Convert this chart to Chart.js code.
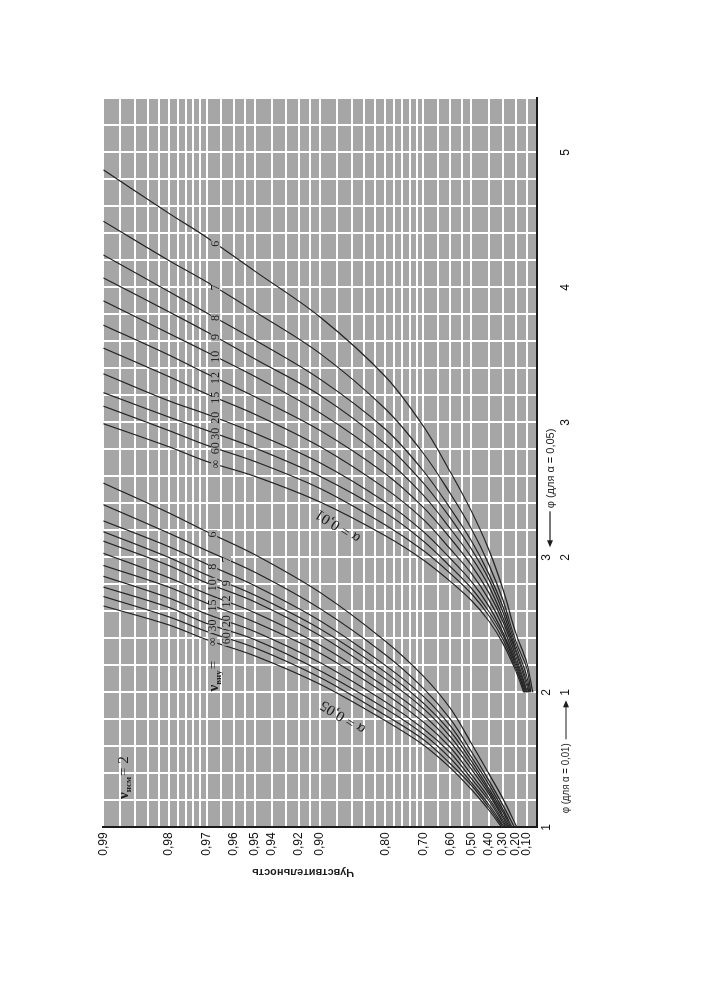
<!DOCTYPE html>
<html>
<head>
<meta charset="utf-8">
<script src="https://cdn.jsdelivr.net/npm/chart.js@4.4.1/dist/chart.umd.min.js"></script>
<style>
  html, body { margin: 0; padding: 0; width: 705px; height: 1000px; overflow: hidden; background: #fff; }
  /* the chart is printed turned on its side, so draw it flat and turn the box */
  #page { position: absolute; left: 0; top: 0; width: 1000px; height: 705px;
          transform-origin: 0 0; transform: translateY(1000px) rotate(-90deg); }
</style>
</head>
<body>
<div id="page"><canvas id="power-chart" width="1000" height="705"></canvas></div>
<script>
// one curve per value of ν2 (within-group df), ν1 = 2
const nu2 = ['6', '7', '8', '9', '10', '12', '15', '20', '30', '60', '∞'];

// α = 0,05 family: φ (inner scale) at which each power level is reached
const levels05 = [0.30, 0.40, 0.50, 0.60, 0.70, 0.80, 0.90, 0.95, 0.97, 0.98, 0.99];
const start05 = [0.19, 0.21, 0.23, 0.24, 0.25, 0.26, 0.27, 0.28, 0.29, 0.30, 0.31]; // power at φ = 1
const phi05 = [
  [1.21, 1.40, 1.62, 1.88, 2.12, 2.38, 2.74, 3.02, 3.19, 3.33, 3.55],
  [1.16, 1.35, 1.56, 1.80, 2.03, 2.28, 2.62, 2.89, 3.05, 3.18, 3.39],
  [1.13, 1.32, 1.52, 1.75, 1.97, 2.20, 2.53, 2.79, 2.95, 3.08, 3.27],
  [1.11, 1.29, 1.49, 1.71, 1.92, 2.15, 2.47, 2.72, 2.87, 3.00, 3.19],
  [null, 1.27, 1.46, 1.67, 1.88, 2.10, 2.42, 2.67, 2.81, 2.94, 3.12],
  [null, 1.25, 1.43, 1.63, 1.83, 2.04, 2.35, 2.59, 2.73, 2.85, 3.03],
  [null, 1.22, 1.39, 1.59, 1.78, 1.99, 2.29, 2.52, 2.66, 2.78, 2.94],
  [null, 1.20, 1.36, 1.55, 1.73, 1.93, 2.22, 2.45, 2.58, 2.70, 2.86],
  [null, 1.17, 1.33, 1.51, 1.69, 1.88, 2.16, 2.39, 2.51, 2.63, 2.78],
  [null, 1.15, 1.31, 1.47, 1.65, 1.83, 2.11, 2.33, 2.45, 2.56, 2.71],
  [null, 1.13, 1.28, 1.44, 1.61, 1.79, 2.06, 2.27, 2.39, 2.50, 2.64]
];

// α = 0,01 family: φ on its own scale (outer row, shifted by one unit)
const levels01 = [0.10, 0.20, 0.30, 0.40, 0.50, 0.60, 0.70, 0.80, 0.90, 0.95, 0.97, 0.98, 0.99];
const start01 = [0.04, 0.06, 0.07, 0.08, 0.085, 0.095, 0.10, 0.11, 0.12, 0.12, 0.13];
const phi01 = [
  [1.22, 1.44, 1.76, 2.06, 2.34, 2.63, 2.97, 3.34, 3.78, 4.12, 4.37, 4.55, 4.87],
  [1.18, 1.38, 1.68, 1.95, 2.21, 2.47, 2.77, 3.10, 3.51, 3.82, 4.04, 4.20, 4.49],
  [1.12, 1.35, 1.63, 1.88, 2.12, 2.36, 2.64, 2.95, 3.32, 3.61, 3.81, 3.97, 4.24],
  [1.08, 1.32, 1.59, 1.84, 2.06, 2.29, 2.55, 2.84, 3.20, 3.47, 3.67, 3.82, 4.07],
  [1.05, 1.30, 1.55, 1.79, 2.00, 2.21, 2.46, 2.73, 3.07, 3.34, 3.52, 3.66, 3.90],
  [null, 1.27, 1.52, 1.74, 1.94, 2.14, 2.37, 2.62, 2.94, 3.19, 3.36, 3.50, 3.72],
  [null, 1.24, 1.48, 1.69, 1.88, 2.06, 2.28, 2.51, 2.82, 3.06, 3.21, 3.34, 3.55],
  [null, 1.22, 1.44, 1.64, 1.82, 1.99, 2.19, 2.41, 2.70, 2.92, 3.06, 3.16, 3.36],
  [null, 1.20, 1.42, 1.60, 1.77, 1.93, 2.12, 2.33, 2.60, 2.81, 2.94, 3.04, 3.22],
  [null, 1.18, 1.39, 1.57, 1.73, 1.88, 2.05, 2.24, 2.51, 2.71, 2.83, 2.94, 3.12],
  [null, 1.16, 1.36, 1.53, 1.68, 1.82, 1.98, 2.16, 2.41, 2.60, 2.71, 2.82, 2.99]
];

// power axis: grid lines and the ones carrying a label
const powerGrid = [0.10, 0.20, 0.30, 0.40, 0.50, 0.55, 0.60, 0.65, 0.70, 0.72, 0.74, 0.76, 0.78,
  0.80, 0.82, 0.84, 0.86, 0.88, 0.90, 0.91, 0.92, 0.93, 0.94, 0.95, 0.955, 0.96, 0.965,
  0.97, 0.972, 0.974, 0.976, 0.978, 0.98, 0.982, 0.984, 0.986, 0.988, 0.99];
const powerLabels = [0.10, 0.20, 0.30, 0.40, 0.50, 0.60, 0.70, 0.80, 0.90, 0.92, 0.94, 0.95,
  0.96, 0.97, 0.98, 0.99];

// φ tick labels: inner row (α = 0,05) and outer row (α = 0,01)
const phiTicks05 = [1, 2, 3];
const phiTicks01 = [1, 2, 3, 4, 5];

const plotBg = '#a6a6a6';
const ink = '#1c1c1c';
const sans = '"Liberation Sans", Arial, sans-serif';
const serif = '"Liberation Serif", "Times New Roman", serif';

// the power scale is -log10(1 - P)
function axisValue(p) {
  return -Math.log10(1 - p);
}

function buildCurve(start, levels, phis, shift) {
  const pts = [{ x: 1 + shift, y: axisValue(start) }];
  levels.forEach((p, i) => {
    if (phis[i] !== null) pts.push({ x: phis[i] + shift, y: axisValue(p) });
  });
  return pts;
}

function phiAtValue(points, f) {
  for (let k = 1; k < points.length; k++) {
    const a = points[k - 1], b = points[k];
    if (f >= a.y && f <= b.y) return a.x + (b.x - a.x) * (f - a.y) / (b.y - a.y);
  }
  return points[points.length - 1].x;
}

function fmtPower(p) {
  return p.toFixed(2).replace('.', ',');
}

const datasets = [];
nu2.forEach((nu, i) => {
  datasets.push({ label: 'α = 0,05, ν2 = ' + nu, nu: nu, family: '05', labelAt: i % 2 === 0 ? 0.968 : 0.963,
    data: buildCurve(start05[i], levels05, phi05[i], 0) });
});
nu2.forEach((nu, i) => {
  datasets.push({ label: 'α = 0,01, ν2 = ' + nu, nu: nu, family: '01', labelAt: 0.967,
    data: buildCurve(start01[i], levels01, phi01[i], 1) });
});

function drawArrow(ctx, x1, x2, y) {
  // shaft from x1 to x2, head at x2
  const dir = x2 > x1 ? 1 : -1;
  ctx.beginPath();
  ctx.moveTo(x1, y);
  ctx.lineTo(x2 - dir * 5, y);
  ctx.lineWidth = 1.2;
  ctx.stroke();
  ctx.beginPath();
  ctx.moveTo(x2, y);
  ctx.lineTo(x2 - dir * 7, y - 3);
  ctx.lineTo(x2 - dir * 7, y + 3);
  ctx.closePath();
  ctx.fill();
}

function drawNu(ctx, x, y, sub, rest) {
  ctx.textAlign = 'left';
  ctx.textBaseline = 'alphabetic';
  ctx.font = 'bold 15px ' + serif;
  ctx.fillText('ν', x, y);
  let cx = x + ctx.measureText('ν').width;
  ctx.font = 'bold 9px ' + serif;
  ctx.fillText(sub, cx, y + 3);
  cx += ctx.measureText(sub).width + 1;
  ctx.font = '15px ' + serif;
  ctx.fillText(rest, cx, y);
}

const annotations = {
  id: 'annotations',
  beforeDraw(chart) {
    const { ctx, chartArea: a } = chart;
    ctx.save();
    ctx.fillStyle = plotBg;
    ctx.fillRect(a.left, a.top, a.right - a.left, a.bottom - a.top);
    ctx.restore();
  },
  afterDatasetsDraw(chart) {
    const { ctx } = chart;
    const xs = chart.scales.x, ys = chart.scales.y;
    ctx.save();
    ctx.font = '12px ' + serif;
    ctx.textAlign = 'center';
    ctx.textBaseline = 'middle';
    let infX = 0, infY = 0;
    chart.data.datasets.forEach(ds => {
      const f = axisValue(ds.labelAt);
      const px = xs.getPixelForValue(phiAtValue(ds.data, f));
      const py = ys.getPixelForValue(f);
      const w = ctx.measureText(ds.nu).width + 3;
      ctx.fillStyle = plotBg;
      ctx.fillRect(px - w / 2, py - 4.5, w, 9);
      ctx.fillStyle = ink;
      ctx.fillText(ds.nu, px, py + 0.5);
      if (ds.family === '05' && ds.nu === '∞') { infX = px - w / 2; infY = py; }
    });

    ctx.fillStyle = ink;
    // ν_вну = ∞ caption in front of the lowest α = 0,05 curve
    drawNu(ctx, infX - 44, infY + 5, 'вну', '=');
    // ν1 in the corner
    drawNu(ctx, xs.getPixelForValue(1.21), ys.getPixelForValue(axisValue(0.987)), 'нсм', '= 2');

    // α labels along the two families
    ctx.font = '15px ' + serif;
    ctx.textAlign = 'center';
    ctx.textBaseline = 'middle';
    [['α = 0,05', 283, 343], ['α = 0,01', 474, 338]].forEach(([t, x, y]) => {
      ctx.save();
      ctx.translate(x, y);
      ctx.rotate(-58 * Math.PI / 180);
      ctx.fillText(t, 0, 0);
      ctx.restore();
    });
    ctx.restore();
  },
  afterDraw(chart) {
    const { ctx } = chart;
    const xs = chart.scales.x;
    ctx.save();
    ctx.fillStyle = ink;
    ctx.strokeStyle = ink;
    // power axis title
    ctx.save();
    ctx.translate(128, 303);
    ctx.rotate(-Math.PI / 2);
    ctx.font = 'bold 11px ' + sans;
    ctx.textAlign = 'center';
    ctx.textBaseline = 'middle';
    ctx.fillText('Чувствительность', 0, 0, 107);
    ctx.restore();

    // φ captions with arrows
    ctx.font = '11px ' + sans;
    ctx.textBaseline = 'middle';
    ctx.textAlign = 'left';
    const x1 = xs.getPixelForValue(1), x2 = xs.getPixelForValue(2), x3 = xs.getPixelForValue(3);
    ctx.fillText('φ (для α = 0,01)', x1 + 14, 566, 70);
    drawArrow(ctx, x1 + 88, x2 - 8, 566);
    drawArrow(ctx, x3 + 46, x3 + 10, 550);
    ctx.fillText('φ (для α = 0,05)', x3 + 49, 551, 80);
    ctx.restore();
  }
};

new Chart(document.getElementById('power-chart'), {
  type: 'line',
  data: { datasets: datasets },
  options: {
    responsive: false,
    animation: false,
    layout: { padding: { left: 0, top: 103.3, right: 98.3, bottom: 0 } },
    elements: {
      point: { radius: 0 },
      line: { borderColor: '#262626', borderWidth: 1.2, tension: 0.35, fill: false }
    },
    plugins: { legend: { display: false }, tooltip: { enabled: false } },
    scales: {
      x: {
        type: 'linear',
        min: 1,
        max: 6.4,
        afterFit(scale) { scale.height = 168.3; },
        afterBuildTicks(scale) {
          const t = [];
          for (let i = 0; i <= 27; i++) t.push({ value: +(1 + 0.2 * i).toFixed(1) });
          scale.ticks = t;
        },
        grid: { color: '#ffffff', lineWidth: 2, drawTicks: false },
        border: { display: true, color: '#1a1a1a', width: 2 },
        ticks: {
          autoSkip: false,
          maxRotation: 0,
          minRotation: 0,
          padding: 1,
          color: '#111',
          font: { family: sans, size: 12, lineHeight: 1.55 },
          callback(value) {
            const v = Math.round(value * 10) / 10;
            const a = phiTicks05.includes(v) ? String(v) : '';
            const b = phiTicks01.includes(v - 1) ? String(v - 1) : '';
            if (!a && !b) return '';
            return [a, b];
          }
        }
      },
      y: {
        type: 'linear',
        min: 0,
        max: 2,
        afterFit(scale) { scale.width = 172.7; },
        afterBuildTicks(scale) {
          scale.ticks = powerGrid.map(p => ({ value: axisValue(p) }));
        },
        grid: { color: '#ffffff', lineWidth: 2, drawTicks: false },
        border: { display: true, color: '#1a1a1a', width: 2 },
        ticks: {
          autoSkip: false,
          padding: 5,
          color: '#111',
          font: { family: sans, size: 12 },
          callback(value, index) {
            const p = powerGrid[index];
            return powerLabels.includes(p) ? fmtPower(p) : '';
          }
        }
      }
    }
  },
  plugins: [annotations]
});
</script>
</body>
</html>
